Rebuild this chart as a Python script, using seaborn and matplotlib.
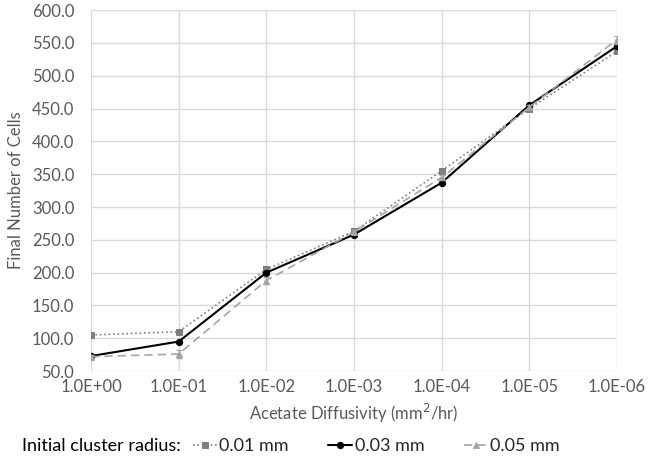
import numpy as np
import pandas as pd
import matplotlib
matplotlib.use("Agg")
import matplotlib.pyplot as plt
import seaborn as sns

diffusivity = ["1.0E+00", "1.0E-01", "1.0E-02", "1.0E-03", "1.0E-04", "1.0E-05", "1.0E-06"]
r001 = [105, 110, 205, 263, 355, 450, 537]
r003 = [73, 95, 200, 258, 337, 455, 545]
r005 = [72, 76, 188, 262, 345, 452, 555]
r005_err = [3, 6, 6, 3, 4, 3, 6]

sns.set_style("white")
plt.rcParams["font.family"] = ["Lato", "DejaVu Sans"]

fig = plt.figure(figsize=(6.5, 4.61), dpi=100)
ax = fig.add_axes([0.14, 0.195, 0.809, 0.783])

pos = np.arange(len(diffusivity))
df = pd.DataFrame({"pos": pos, "0.01 mm": r001, "0.03 mm": r003, "0.05 mm": r005})

# grey dotted squares, black solid circles, light grey dashed triangles
sns.lineplot(data=df, x="pos", y="0.01 mm", ax=ax, color="#7f7f7f", linestyle=":",
             linewidth=1.2, marker="s", markersize=5, markeredgecolor="#7f7f7f",
             label="0.01 mm")
sns.lineplot(data=df, x="pos", y="0.03 mm", ax=ax, color="black", linestyle="-",
             linewidth=1.5, marker="o", markersize=4.5, markeredgecolor="black",
             label="0.03 mm")
sns.lineplot(data=df, x="pos", y="0.05 mm", ax=ax, color="#a5a5a5", linestyle=(0, (5, 3)),
             linewidth=1.2, marker="^", markersize=4, markeredgecolor="#a5a5a5",
             label="0.05 mm")
ax.errorbar(pos, r005, yerr=r005_err, fmt="none", ecolor="#a5a5a5", elinewidth=0.8, capsize=2)

ax.set_xlim(0, len(diffusivity) - 1)
ax.set_ylim(50, 600)
ax.set_xticks(pos)
ax.set_xticklabels(diffusivity)
ax.set_yticks(np.arange(50, 601, 50))
ax.set_yticklabels([f"{v:.1f}" for v in np.arange(50, 601, 50)])
ax.tick_params(axis="y", labelsize=12, colors="#595959", length=0, pad=12)
ax.tick_params(axis="x", labelsize=12, colors="#595959", length=0, pad=6)
ax.grid(True, color="#d9d9d9", linewidth=1)
for s in ax.spines.values():
    s.set_visible(False)
ax.set_xlabel("Acetate Diffusivity (mm$^2$/hr)", fontsize=12, color="#595959", labelpad=5)
ax.set_ylabel("Final Number of Cells", fontsize=12, color="#595959", labelpad=6)

handles, labels = ax.get_legend_handles_labels()
ax.get_legend().remove()
fig.text(0.034, 0.032, "Initial cluster radius:", fontsize=13, color="black", va="center")
fig.legend(handles, labels, ncol=3, frameon=False, fontsize=13, loc="center left",
           bbox_to_anchor=(0.297, 0.032), handlelength=1.3, handletextpad=0.15,
           columnspacing=2.2, borderaxespad=0, borderpad=0)

fig.savefig("out.png", dpi=100)
